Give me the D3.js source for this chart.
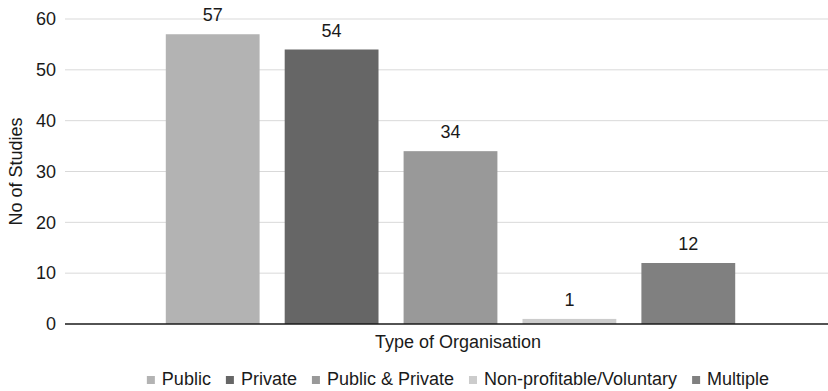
<!DOCTYPE html>
<html>
<head>
<meta charset="utf-8">
<script src="https://cdn.jsdelivr.net/npm/d3@7"></script>
<style>
  html, body { margin: 0; padding: 0; background: #fff; }
  svg { display: block; font-family: "Liberation Sans", Arial, sans-serif; }
</style>
</head>
<body>
<svg id="chart" width="828" height="391"></svg>
<script>
// Number of studies by type of organisation
const category = "Type of Organisation";
const seriesNames = ["Public", "Private", "Public & Private", "Non-profitable/Voluntary", "Multiple"];
const seriesValues = [57, 54, 34, 1, 12];
const seriesColors = ["#b3b3b3", "#666666", "#999999", "#cccccc", "#808080"];
const yTicks = [0, 10, 20, 30, 40, 50, 60];

const svg = d3.select("#chart");
const W = 828, H = 391;
const plotLeft = 65, plotRight = 836, plotTop = 19, plotBottom = 324;

const y = d3.scaleLinear().domain([0, 60]).range([plotBottom, plotTop]);

// Single category band holding the five series bars
const x0 = d3.scaleBand().domain([category]).range([plotLeft, plotRight])
  .paddingInner(0).paddingOuter(0.177);
const x1 = d3.scaleBand().domain(seriesNames).range([x0(category), x0(category) + x0.bandwidth()])
  .paddingInner(0.211).paddingOuter(0);

const fontSize = 18;
const textColor = "#1a1a1a";

// Gridlines
svg.append("g").selectAll("line").data(yTicks.filter(d => d > 0)).join("line")
  .attr("x1", plotLeft).attr("x2", W)
  .attr("y1", d => y(d)).attr("y2", d => y(d))
  .attr("stroke", "#d9d9d9").attr("stroke-width", 1);

// Y tick labels
svg.append("g").selectAll("text").data(yTicks).join("text")
  .attr("x", 56).attr("y", d => y(d)).attr("dy", "0.35em")
  .attr("text-anchor", "end").attr("font-size", fontSize).attr("fill", textColor)
  .text(d => d);

// Bars
svg.append("g").selectAll("rect").data(seriesNames).join("rect")
  .attr("x", d => x1(d)).attr("width", x1.bandwidth())
  .attr("y", (d, i) => y(seriesValues[i]))
  .attr("height", (d, i) => plotBottom - y(seriesValues[i]))
  .attr("fill", (d, i) => seriesColors[i]);

// Value labels
svg.append("g").selectAll("text").data(seriesNames).join("text")
  .attr("x", d => x1(d) + x1.bandwidth() / 2)
  .attr("y", (d, i) => y(seriesValues[i]) - 13)
  .attr("text-anchor", "middle").attr("font-size", fontSize).attr("fill", textColor)
  .text((d, i) => seriesValues[i]);

// Baseline
svg.append("line")
  .attr("x1", plotLeft).attr("x2", W)
  .attr("y1", y(0)).attr("y2", y(0))
  .attr("stroke", "#1a1a1a").attr("stroke-width", 1.4);

// Axis titles
svg.append("text")
  .attr("x", 458).attr("y", 348)
  .attr("text-anchor", "middle").attr("font-size", fontSize).attr("fill", textColor)
  .text(category);

svg.append("text")
  .attr("transform", `translate(22, ${(y(0) + y(60)) / 2}) rotate(-90)`)
  .attr("text-anchor", "middle").attr("font-size", fontSize).attr("fill", textColor)
  .text("No of Studies");

// Legend, centred below the plot
const legend = svg.append("g");
const sw = 8, swGap = 7, itemGap = 15;
let cx = 0;
seriesNames.forEach((name, i) => {
  const g = legend.append("g").attr("transform", `translate(${cx},0)`);
  g.append("rect").attr("x", 0).attr("y", -9).attr("width", sw).attr("height", sw)
    .attr("fill", seriesColors[i]);
  const t = g.append("text").attr("x", sw + swGap).attr("y", 0)
    .attr("font-size", fontSize).attr("fill", textColor).text(name);
  cx += sw + swGap + t.node().getComputedTextLength() + itemGap;
});
const legendW = cx - itemGap;
legend.attr("transform", `translate(${458 - legendW / 2}, 385)`);
</script>
</body>
</html>
